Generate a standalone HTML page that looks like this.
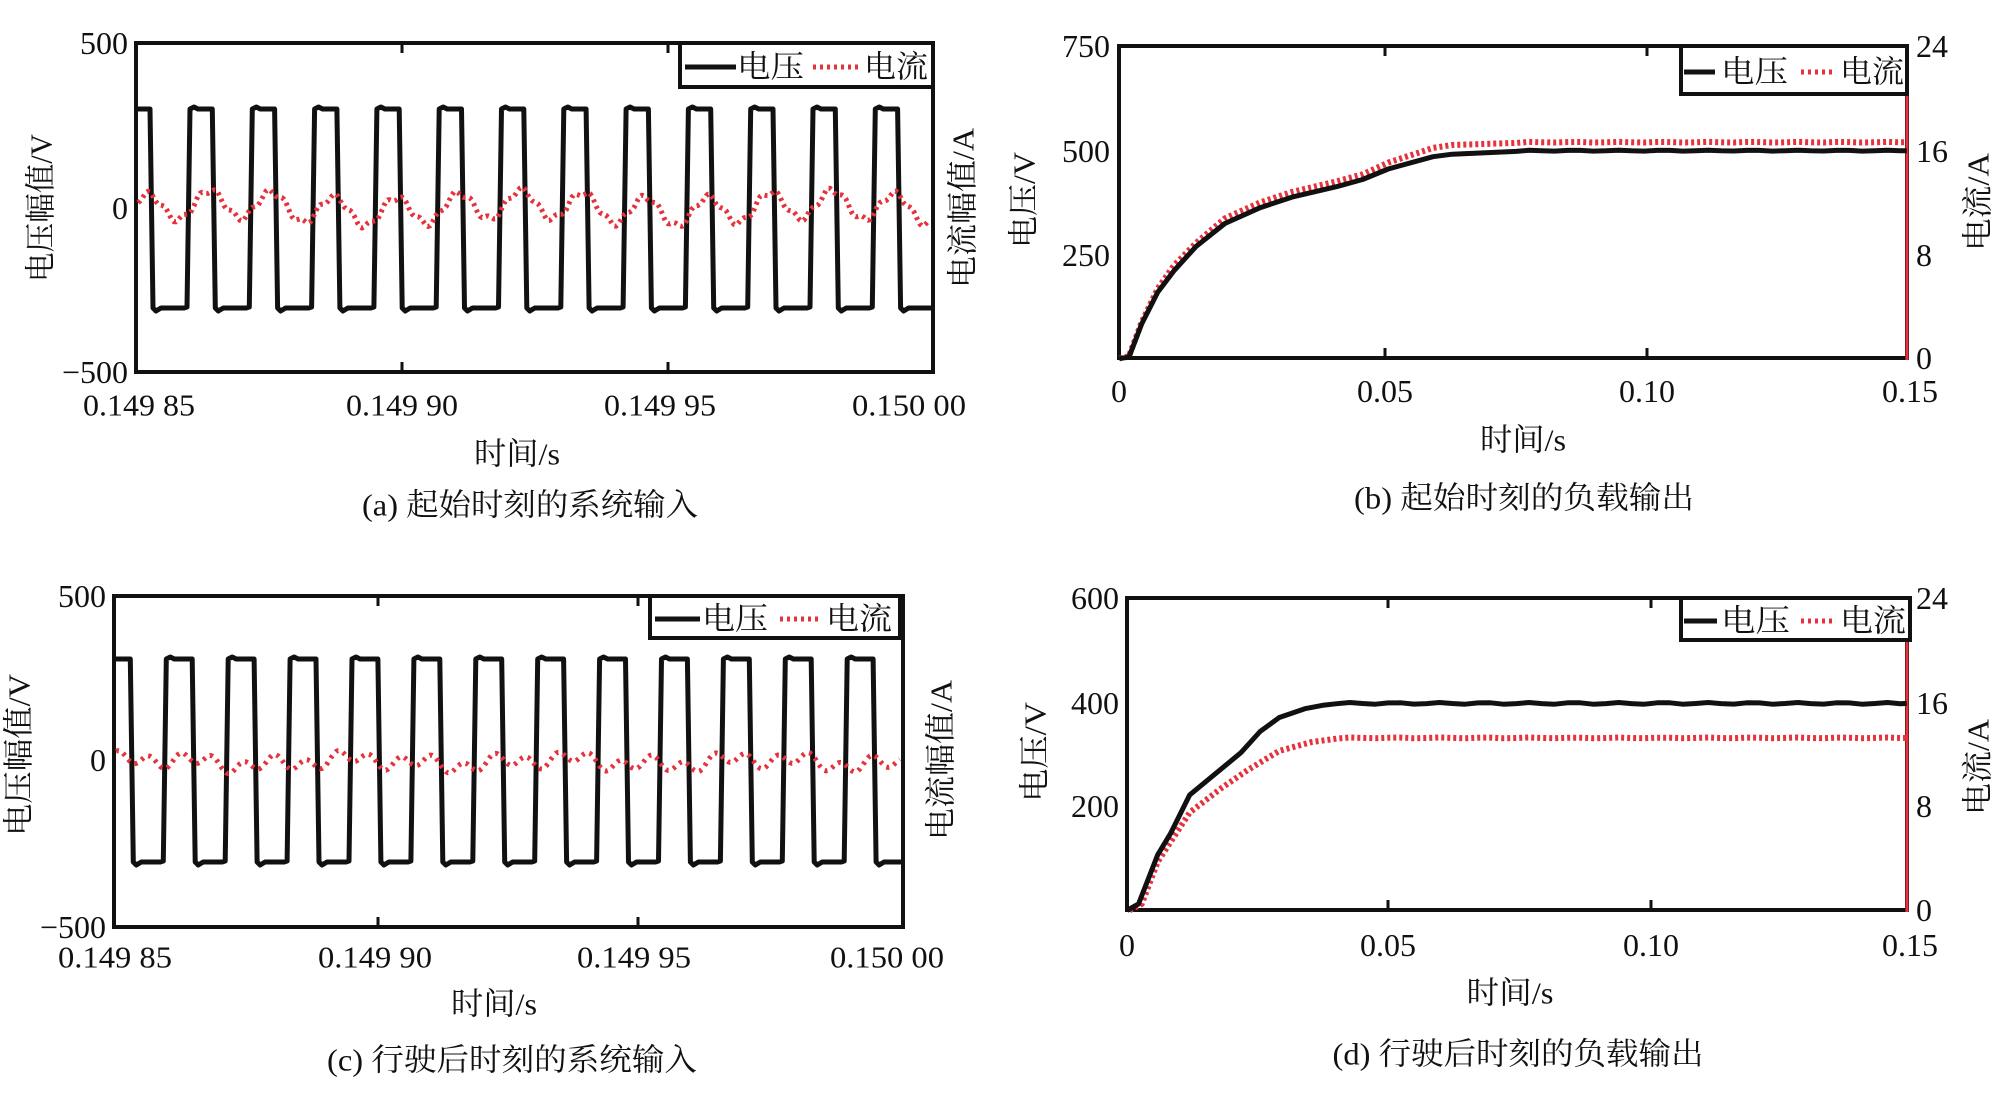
<!DOCTYPE html>
<html><head><meta charset="utf-8"><style>
html,body{margin:0;padding:0;background:#fff;}
svg{display:block;}
text{font-family:"Liberation Serif","Noto Serif CJK SC","Noto Sans CJK SC",serif;fill:#111;}
</style></head><body>
<svg id="s" width="2008" height="1104" viewBox="0 0 2008 1104" xmlns="http://www.w3.org/2000/svg"></svg>
<script>
const S=document.getElementById('s');const NS='http://www.w3.org/2000/svg';
function el(t,a,txt){const e=document.createElementNS(NS,t);for(const k in a)e.setAttribute(k,a[k]);if(txt!=null)e.textContent=txt;S.appendChild(e);return e;}
function txt(x,y,s,size,anchor,len,rot){const a={x:x,y:y,'font-size':size,'text-anchor':anchor||'middle','dominant-baseline':'central'};
 if(len){a.textLength=len;a.lengthAdjust='spacingAndGlyphs';}
 if(rot){a.transform='rotate(-90 '+x+' '+y+')';}
 return el('text',a,s);}
function path(d,st,w,dash){const a={d:d,fill:'none',stroke:st,'stroke-width':w,'stroke-linejoin':'round'};if(dash)a['stroke-dasharray']=dash;return el('path',a);}
const RED='#e5323c';
function frame(x0,y0,x1,y1,xt,redRight){
 el('rect',{x:x0,y:y0,width:x1-x0,height:y1-y0,fill:'none',stroke:'#111','stroke-width':4});
 xt.forEach(x=>{path('M'+x+' '+y0+'V'+(y0+10),'#111',3);path('M'+x+' '+y1+'V'+(y1-10),'#111',3);});
 if(redRight){path('M'+x1+' '+(y0-2)+'V'+(y1+2),RED,3);}
}
function legend(L,T,R,B,l1,t1,d1,t2){
 el('rect',{x:L,y:T,width:R-L,height:B-T,fill:'#fff',stroke:'#111','stroke-width':4});
 const ym=(T+B)/2+2;
 path('M'+l1[0]+' '+ym+'H'+l1[1],'#111',5);
 txt(t1[0],ym,'电压',31,'start',t1[1]-t1[0]);
 path('M'+d1[0]+' '+ym+'H'+d1[1],RED,5,'3 4');
 txt(t2[0],ym,'电流',31,'start',t2[1]-t2[0]);
}
function square(x0,x1,hi,lo,rise,fall,per,n){
 let d='M'+x0+' '+hi;let pts=[];
 for(let i=0;i<n;i++){pts.push([fall+i*per,'f']);pts.push([rise+i*per,'r']);}
 pts.sort((a,b)=>a[0]-b[0]);
 let cur=hi;
 for(const [x,t] of pts){if(x>=x1)break;
  if(t=='f'){d+=' L'+(x-1)+' '+hi+' L'+(x+2)+' '+lo+' L'+(x+5)+' '+(lo+3)+' L'+(x+10)+' '+lo;cur=lo;}
  else{d+=' L'+(x-3)+' '+lo+' L'+(x)+' '+(lo-1)+' L'+(x+3)+' '+hi+' L'+(x+7)+' '+(hi-2)+' L'+(x+11)+' '+hi;cur=hi;}
 }
 d+=' L'+x1+' '+cur;return d;
}
// ---------- Panel a ----------
frame(136,43,933,372,[402,668],false);
path(square(138,931,109,308,187,151,62.3,14),'#111',5);
{let d='';for(let x=138;x<=931;x+=2){const y=208-14*Math.cos(2*Math.PI*(x-147)/62.3)+3*Math.sin(x*0.37)+4*Math.sin(x*0.021);d+=(d?' L':'M')+x+' '+y.toFixed(1);}path(d,RED,5,'3 4');}
legend(680,43,933,87,[685,736],[737,804],[813,861],[864,928]);
txt(128,43,'500',32,'end');txt(128,208,'0',32,'end');txt(128,372,'−500',32,'end');
txt(139,405,'0.149 85',31,'middle',112);txt(402,405,'0.149 90',31,'middle',112);txt(660,405,'0.149 95',31,'middle',112);txt(909,405,'0.150 00',31,'middle',114);
txt(517,454,'时间/s',31,'middle',86);
txt(530,505,'(a) 起始时刻的系统输入',31,'middle',336);
txt(41,208,'电压幅值/V',31,'middle',148,true);
txt(963,208,'电流幅值/A',31,'middle',160,true);
// ---------- Panel b ----------
frame(1119,46,1907,358,[1385,1647],true);
function curve(pts,dy){let d='';pts.forEach((p,i)=>{const x=p[0]/1.5618+1004,y=p[1]/2.8406+dy;d+=(i?' L':'M')+x.toFixed(1)+' '+y.toFixed(1);});return d;}
function wob(pts,amp){const out=[];for(let i=0;i<pts.length-1;i++){out.push(pts[i]);}
 const last=pts[pts.length-1];const start=pts[pts.length-2];for(let x=start[0]+20;x<last[0];x+=20){out.push([x,last[1]+amp*Math.sin(x*0.09)]);}out.push(last);return out;}
const bv=wob([[180,1018],[195,1015],[215,920],[240,830],[265,770],[300,700],[345,635],[400,590],[450,560],[520,530],[560,510],[600,480],[670,445],[700,438],[800,430],[1410,428]],1.2);
const bc=wob([[180,1018],[195,1012],[215,915],[240,820],[265,755],[300,690],[345,620],[400,575],[450,545],[520,515],[560,495],[600,462],[670,420],[700,412],[800,406],[1410,404]],0.8);
path(curve(bc,0),RED,6,'3 3');
path(curve(bv,0),'#111',5);
legend(1681,46,1907,94,[1684,1715],[1721,1788],[1801,1836],[1840,1904]);
txt(1110,46,'750',32,'end');txt(1110,151,'500',32,'end');txt(1110,255,'250',32,'end');
txt(1119,391,'0',32);txt(1385,391,'0.05',32);txt(1647,391,'0.10',32);txt(1910,391,'0.15',32);
txt(1916,46,'24',32,'start');txt(1916,151,'16',32,'start');txt(1916,255,'8',32,'start');txt(1916,358,'0',32,'start');
txt(1523,440,'时间/s',31,'middle',86);
txt(1524,498,'(b) 起始时刻的负载输出',31,'middle',340);
txt(1024,200,'电压/V',31,'middle',96,true);
txt(1978,202,'电流/A',31,'middle',98,true);
// ---------- Panel c ----------
frame(114,596,903,927,[378,638],false);
path(square(116,901,659,862,163.3,131.3,61.9,14),'#111',5);
{let d='';for(let x=116;x<=901;x+=2){const y=762+6*Math.sin(x*0.2)+4*Math.sin(x*0.083+1)+3*Math.sin(x*0.031);d+=(d?' L':'M')+x+' '+y.toFixed(1);}path(d,RED,5,'3 5');}
legend(650,596,900,638,[655,700],[702,768],[780,822],[826,892]);
txt(106,596,'500',32,'end');txt(106,760,'0',32,'end');txt(106,927,'−500',32,'end');
txt(115,957,'0.149 85',31,'middle',114);txt(375,957,'0.149 90',31,'middle',114);txt(634,957,'0.149 95',31,'middle',114);txt(887,957,'0.150 00',31,'middle',114);
txt(494,1004,'时间/s',31,'middle',86);
txt(512,1060,'(c) 行驶后时刻的系统输入',31,'middle',370);
txt(19,755,'电压幅值/V',31,'middle',162,true);
txt(941,760,'电流幅值/A',31,'middle',160,true);
// ---------- Panel d ----------
frame(1127,598,1907,910,[1388,1651],true);
const dv=wob([[192,1018],[210,1000],[240,860],[260,800],[290,690],[330,630],[370,570],[400,510],[430,470],[470,445],[500,435],[1410,430]],2.5);
const dc=wob([[196,1018],[215,1000],[240,880],[290,740],[340,670],[380,620],[430,565],[480,540],[520,530],[1410,528]],1);
path(curve(dc,552),RED,6,'3 3');
path(curve(dv,552),'#111',5);
legend(1681,598,1910,640,[1684,1717],[1721,1790],[1801,1836],[1840,1906]);
txt(1119,598,'600',32,'end');txt(1119,703,'400',32,'end');txt(1119,806,'200',32,'end');
txt(1127,945,'0',32);txt(1388,945,'0.05',32);txt(1651,945,'0.10',32);txt(1910,945,'0.15',32);
txt(1916,598,'24',32,'start');txt(1916,703,'16',32,'start');txt(1916,806,'8',32,'start');txt(1916,910,'0',32,'start');
txt(1510,993,'时间/s',31,'middle',87);
txt(1518,1054,'(d) 行驶后时刻的负载输出',31,'middle',371);
txt(1035,752,'电压/V',31,'middle',100,true);
txt(1978,767,'电流/A',31,'middle',96,true);
</script>
</body></html>
